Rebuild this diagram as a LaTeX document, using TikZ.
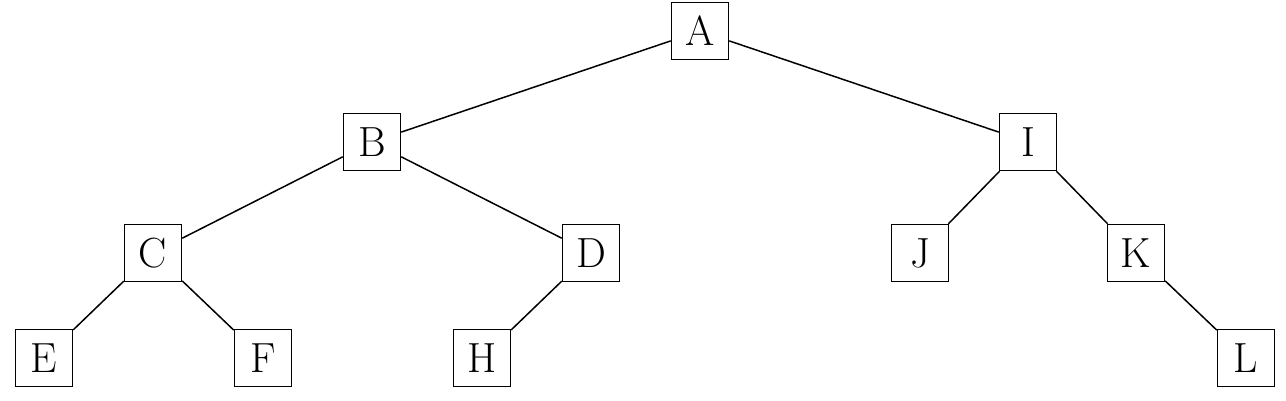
\documentclass[tikz,border=0pt]{standalone}
\begin{document}
\begin{tikzpicture}[x=0.02cm,y=-0.02cm,
  tnode/.style={draw,line width=0.85pt,minimum width=1.14cm,minimum height=1.14cm,inner sep=0pt,font=\fontsize{24}{28}\selectfont},
  edge/.style={line width=0.85pt}]
\useasboundingbox (0,0) rectangle (1286,400);
\node[tnode] (A) at (700,31) {A};
\node[tnode] (B) at (372,142) {B};
\node[tnode] (I) at (1028,142) {I};
\node[tnode] (C) at (153,253) {C};
\node[tnode] (D) at (591,253) {D};
\node[tnode] (J) at (920,253) {J};
\node[tnode] (K) at (1136,253) {K};
\node[tnode] (E) at (44,358) {E};
\node[tnode] (F) at (263,358) {F};
\node[tnode] (H) at (482,358) {H};
\node[tnode] (L) at (1246,358) {L};
\draw[edge] (A) -- (B);
\draw[edge] (A) -- (I);
\draw[edge] (B) -- (C);
\draw[edge] (B) -- (D);
\draw[edge] (C) -- (E);
\draw[edge] (C) -- (F);
\draw[edge] (D) -- (H);
\draw[edge] (I) -- (J);
\draw[edge] (I) -- (K);
\draw[edge] (K) -- (L);
\end{tikzpicture}
\end{document}
